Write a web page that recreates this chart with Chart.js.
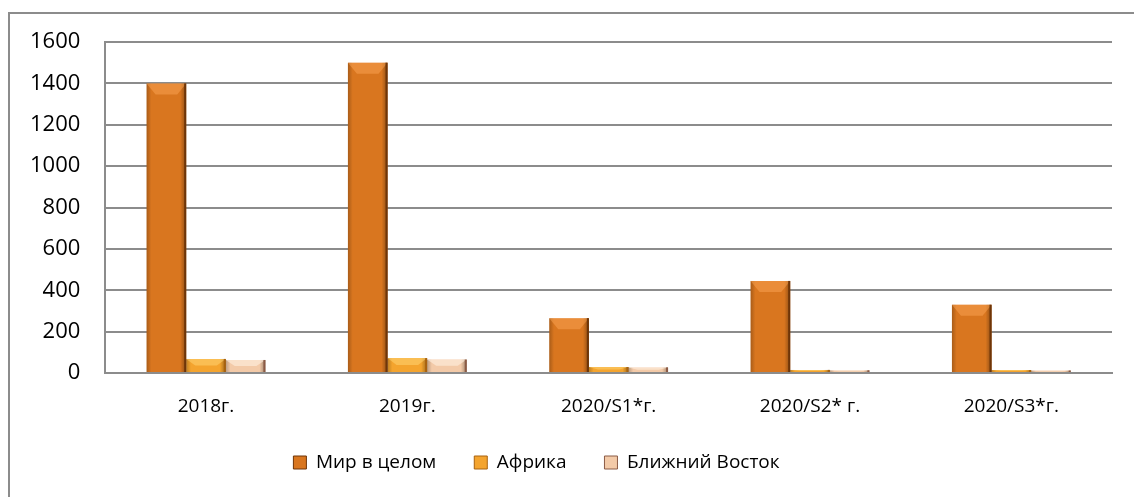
<!DOCTYPE html>
<html>
<head>
<meta charset="utf-8">
<script src="https://cdn.jsdelivr.net/npm/chart.js@4"></script>
<style>
  html, body { margin:0; padding:0; background:#fff; overflow:hidden; }
  #wrap { position:relative; width:1134px; height:497px; }
  #frame { position:absolute; left:8px; top:12px; width:1200px; height:600px; border:2px solid #8c8c8c; box-sizing:border-box; }
  canvas { position:absolute; left:0; top:0; }
</style>
</head>
<body>
<div id="wrap">
  <div id="frame"></div>
  <canvas id="chart" width="1134" height="497"></canvas>
</div>
<script>
const categories = ["2018г.", "2019г.", "2020/S1*г.", "2020/S2* г.", "2020/S3*г."];
const seriesNames = ["Мир в целом", "Африка", "Ближний Восток"];
const world = [1400, 1500, 265, 445, 330];
const africa = [68, 72, 29, 15, 14];
const middleEast = [63, 65, 27, 13, 12];

const colors = ["#d9761f", "#f4a42e", "#f3caa8"];
const edges = ["#6e3508", "#a8620f", "#8a5a45"];
const tops = ["rgba(255,170,90,0.45)", "rgba(255,215,120,0.5)", "rgba(255,240,225,0.6)"];

const ctx = document.getElementById("chart").getContext("2d");

/* ---------- bevel shading on top of each bar ---------- */
const bevel = {
  id: "bevel",
  afterDatasetsDraw(ch) {
    const c = ch.ctx;
    ch.data.datasets.forEach((ds, di) => {
      ch.getDatasetMeta(di).data.forEach(bar => {
        const l = bar.x - bar.width / 2, r = bar.x + bar.width / 2;
        const t = bar.y, b = bar.base;
        const h = b - t;
        if (h <= 0) return;
        c.save();
        const g = c.createLinearGradient(l, 0, r, 0);
        g.addColorStop(0, "rgba(0,0,0,0.22)");
        g.addColorStop(0.12, "rgba(0,0,0,0)");
        g.addColorStop(0.85, "rgba(0,0,0,0)");
        g.addColorStop(1, "rgba(0,0,0,0.35)");
        c.fillStyle = g;
        c.fillRect(l, t, r - l, h);
        // lighter top bevel
        const bh = Math.min(11, h / 2), inset = Math.min(9, bar.width / 4);
        c.fillStyle = tops[di];
        c.beginPath();
        c.moveTo(l, t); c.lineTo(r, t);
        c.lineTo(r - inset, t + bh); c.lineTo(l + inset, t + bh);
        c.closePath(); c.fill();
        // dark right edge
        c.fillStyle = edges[di];
        c.fillRect(r - 2, t, 2, h);
        c.restore();
      });
    });
  }
};

/* ---------- legend: fixed height, nudged left ---------- */
const legendFit = {
  id: "legendFit",
  beforeInit(ch) {
    const lg = ch.legend;
    const origFit = lg.fit;
    lg.fit = function () { origFit.call(this); this.height = 62; };
    const origDraw = lg.draw;
    lg.draw = function () {
      const c = this.ctx;
      c.save(); c.translate(-22, 0);
      origDraw.call(this);
      c.restore();
    };
  }
};

const chart = new Chart(ctx, {
  type: "bar",
  data: {
    labels: categories,
    datasets: [world, africa, middleEast].map((d, i) => ({
      label: seriesNames[i],
      data: d,
      backgroundColor: colors[i],
      borderWidth: 0,
      categoryPercentage: 0.59,
      barPercentage: 1
    }))
  },
  plugins: [bevel, legendFit],
  options: {
    responsive:false,
    animation:false,
    layout:{ padding:{ left:5, right:22, top:42, bottom:20 } },
    plugins:{
      legend:{
        position:"bottom",
        labels:{
          color:"#000",
          font:{ family:"'Open Sans', sans-serif", size:19 },
          boxWidth:13, boxHeight:13, padding:38,
          generateLabels: (ch) => ch.data.datasets.map((ds, i) => ({
            text: ds.label, fillStyle: colors[i], strokeStyle: edges[i],
            lineWidth: 1, datasetIndex: i
          }))
        }
      },
      tooltip:{ enabled:false }
    },
    scales:{
      x:{
        grid:{ display:false, drawTicks:false },
        border:{ color:"#8c8c8c", width:2 },
        ticks:{ color:"#000", padding:22, font:{ family:"'Open Sans', sans-serif", size:19 } },
        afterFit(s){ s.height = 42; }
      },
      y:{
        min:0, max:1600,
        ticks:{ stepSize:200, color:"#000", padding:25,
          font:{ family:"'Open Sans', sans-serif", size:22 },
          callback: v => String(v) },
        grid:{ color:"#8c8c8c", lineWidth:2, drawTicks:false },
        border:{ color:"#8c8c8c", width:2 }
      }
    }
  }
});
</script>
</body>
</html>
